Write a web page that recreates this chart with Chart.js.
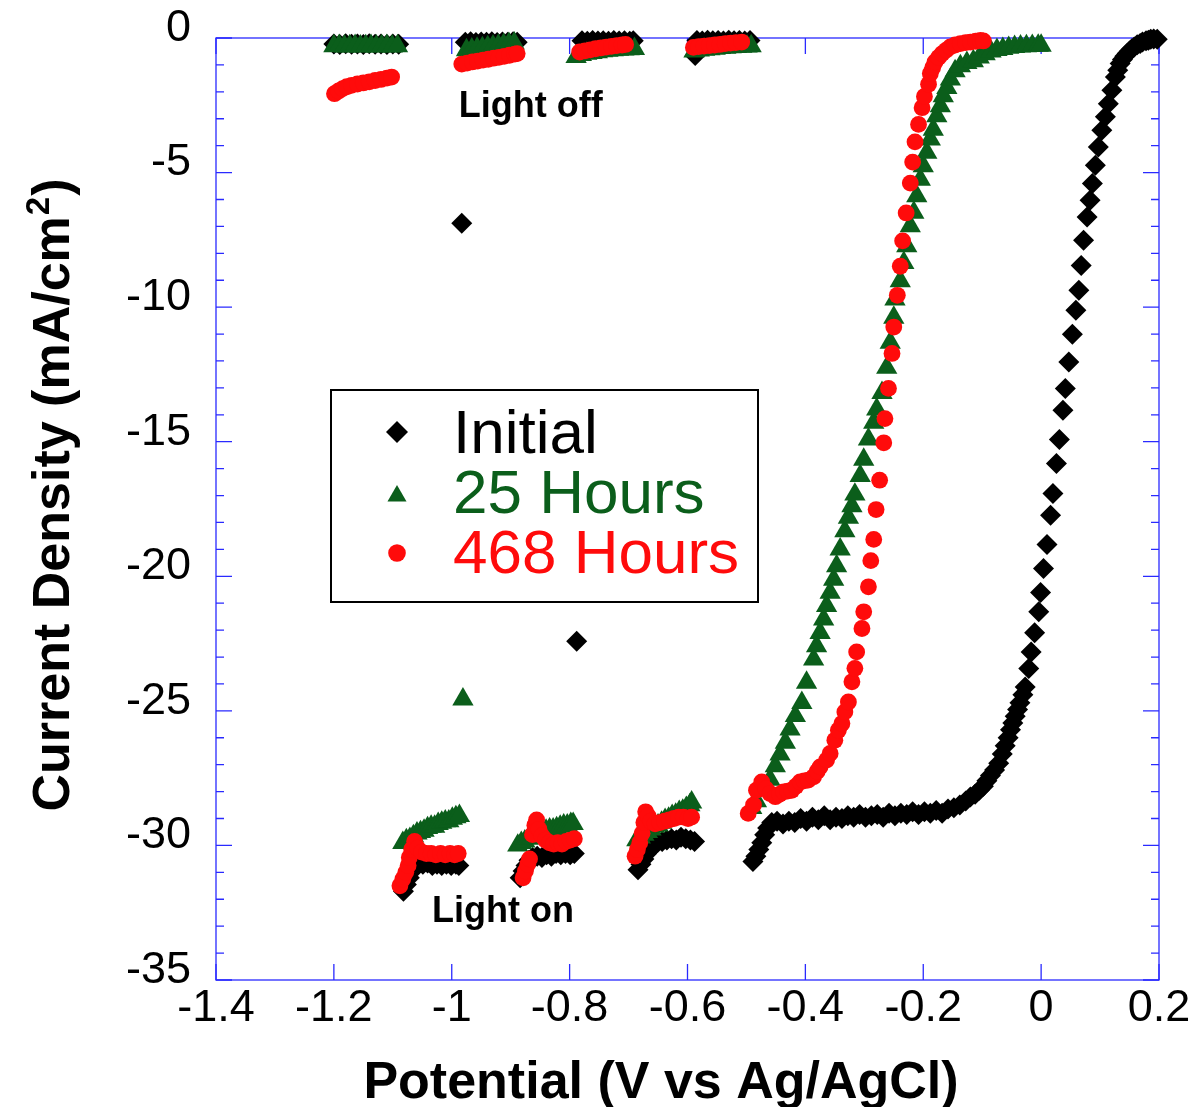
<!DOCTYPE html>
<html><head><meta charset="utf-8">
<script src="https://cdn.jsdelivr.net/npm/chart.js@4/dist/chart.umd.min.js"></script>
<style>html,body{margin:0;padding:0;background:#fff}#wrap{width:1192px;height:1107px}</style>
</head><body><div id="wrap"><canvas id="c" width="1192" height="1107"></canvas></div>
<script>
// ---- data: [potential (V vs Ag/AgCl), current density (mA/cm^2)] ----
const seriesNames = ['Initial', '25 Hours', '468 Hours'];
const potentialTicks = [-1.4, -1.2, -1, -0.8, -0.6, -0.4, -0.2, 0, 0.2];
const currentTicks = [0, -5, -10, -15, -20, -25, -30, -35];
const xTitle = 'Potential (V vs Ag/AgCl)';
const yTitle = 'Current Density (mA/cm²)';

const initialData = [
  [-1.200,-0.22],[-1.190,-0.24],[-1.180,-0.21],[-1.170,-0.23],[-1.160,-0.22],[-1.150,-0.24],[-1.140,-0.21],[-1.130,-0.23],[-1.120,-0.22],[-1.110,-0.24],[-1.100,-0.22],[-1.090,-0.23],
  [-1.082,-31.7],[-1.077,-31.45],[-1.072,-31.2],[-1.067,-30.95],[-1.062,-30.75],[-1.056,-30.6],[-1.049,-30.7],[-1.041,-30.65],[-1.033,-30.75],[-1.025,-30.7],[-1.017,-30.75],[-1.009,-30.7],[-1.001,-30.75],[-0.993,-30.7],[-0.988,-30.75],
  [-0.983,-6.88],
  [-0.977,-0.16],[-0.968,-0.14],[-0.959,-0.17],[-0.950,-0.15],[-0.941,-0.16],[-0.932,-0.14],[-0.923,-0.17],[-0.914,-0.15],[-0.905,-0.16],[-0.896,-0.14],[-0.889,-0.16],
  [-0.884,-31.2],[-0.879,-30.95],[-0.874,-30.75],[-0.869,-30.55],[-0.863,-30.45],[-0.855,-30.4],[-0.847,-30.45],[-0.839,-30.35],[-0.831,-30.4],[-0.823,-30.3],[-0.815,-30.35],[-0.807,-30.3],[-0.799,-30.35],[-0.792,-30.3],
  [-0.788,-22.41],
  [-0.779,-0.10],[-0.770,-0.12],[-0.761,-0.09],[-0.752,-0.11],[-0.743,-0.10],[-0.734,-0.12],[-0.725,-0.09],[-0.716,-0.11],[-0.707,-0.10],[-0.698,-0.12],[-0.692,-0.10],
  [-0.684,-30.9],[-0.679,-30.7],[-0.674,-30.5],[-0.669,-30.3],[-0.664,-30.15],[-0.658,-30.0],[-0.651,-29.9],[-0.643,-29.85],[-0.635,-29.8],[-0.627,-29.75],[-0.619,-29.8],[-0.611,-29.7],[-0.603,-29.75],[-0.595,-29.8],[-0.588,-29.85],
  [-0.587,-0.65],
  [-0.584,-0.09],[-0.575,-0.11],[-0.566,-0.08],[-0.557,-0.10],[-0.548,-0.09],[-0.539,-0.11],[-0.530,-0.08],[-0.521,-0.10],[-0.512,-0.09],[-0.503,-0.11],[-0.494,-0.09],
  [-0.489,-30.6],[-0.484,-30.4],[-0.479,-30.15],[-0.474,-29.9],[-0.469,-29.6],[-0.464,-29.35],[-0.457,-29.15],[-0.448,-29.1],[-0.438,-29.2],[-0.428,-29.1],[-0.418,-29.15],[-0.408,-29.0],[-0.398,-29.1],[-0.388,-28.95],[-0.378,-29.05],[-0.368,-28.9],[-0.358,-29.05],[-0.348,-28.95],[-0.338,-29.0],[-0.328,-28.9],[-0.318,-28.95],[-0.308,-28.85],[-0.298,-28.95],[-0.288,-28.9],[-0.278,-28.85],[-0.268,-28.95],[-0.258,-28.8],[-0.248,-28.9],[-0.238,-28.8],[-0.228,-28.85],[-0.218,-28.75],[-0.208,-28.85],[-0.198,-28.75],[-0.188,-28.8],[-0.178,-28.7],[-0.168,-28.8],[-0.158,-28.65],[-0.148,-28.6],[-0.138,-28.5],[-0.128,-28.35],[-0.120,-28.2],[-0.112,-28.1],[-0.105,-27.95],[-0.098,-27.8],[-0.092,-27.6],[-0.086,-27.4],[-0.079,-27.2],[-0.072,-26.95],[-0.066,-26.6],[-0.061,-26.3],[-0.056,-26.0],[-0.052,-25.7],[-0.048,-25.45],[-0.044,-25.2],[-0.040,-24.95],[-0.036,-24.7],[-0.031,-24.4],[-0.027,-24.11],[-0.021,-23.43],[-0.017,-22.81],[-0.011,-22.1],[-0.004,-21.32],[-0.001,-20.6],[0.004,-19.71],[0.010,-18.82],[0.016,-17.73],[0.020,-16.92],[0.026,-15.81],[0.031,-14.92],[0.037,-13.83],[0.041,-13.02],[0.047,-12.04],[0.053,-11.01],[0.059,-10.12],[0.064,-9.37],[0.068,-8.45],[0.072,-7.51],[0.078,-6.65],[0.083,-6.03],[0.087,-5.41],[0.092,-4.73],[0.097,-4.05],[0.103,-3.43],[0.109,-2.93],[0.114,-2.44],[0.120,-1.94],[0.126,-1.45],[0.130,-1.2],[0.134,-0.95],[0.138,-0.8],[0.142,-0.68],[0.146,-0.58],[0.150,-0.48],[0.154,-0.4],[0.158,-0.33],[0.163,-0.25],[0.168,-0.2],[0.172,-0.15],[0.178,-0.1],[0.182,-0.08],[0.186,-0.05],[0.191,-0.04],[0.197,-0.05]
];

const hours25Data = [
  [-1.200,-0.30],[-1.191,-0.29],[-1.182,-0.31],[-1.173,-0.30],[-1.164,-0.29],[-1.155,-0.31],[-1.146,-0.30],[-1.137,-0.29],[-1.128,-0.31],[-1.119,-0.30],[-1.110,-0.29],[-1.101,-0.31],[-1.092,-0.30],
  [-1.083,-29.9],[-1.077,-29.8],[-1.071,-29.75],[-1.065,-29.65],[-1.059,-29.55],[-1.053,-29.5],[-1.047,-29.45],[-1.041,-29.35],[-1.035,-29.3],[-1.029,-29.3],[-1.023,-29.2],[-1.017,-29.15],[-1.011,-29.1],[-1.005,-29.1],[-0.999,-29.0],[-0.993,-28.95],[-0.987,-28.9],
  [-0.981,-24.57],
  [-0.975,-0.45],[-0.966,-0.42],[-0.957,-0.39],[-0.948,-0.37],[-0.939,-0.34],[-0.930,-0.31],[-0.921,-0.28],[-0.912,-0.25],[-0.903,-0.22],[-0.894,-0.20],
  [-0.888,-30.0],[-0.882,-29.9],[-0.876,-29.85],[-0.870,-29.75],[-0.864,-29.7],[-0.858,-29.6],[-0.852,-29.55],[-0.846,-29.5],[-0.840,-29.45],[-0.834,-29.4],[-0.828,-29.4],[-0.822,-29.35],[-0.816,-29.3],[-0.810,-29.25],[-0.804,-29.25],[-0.798,-29.2],[-0.794,-29.2],
  [-0.789,-0.70],[-0.780,-0.63],[-0.771,-0.58],[-0.762,-0.55],[-0.753,-0.52],[-0.744,-0.49],[-0.735,-0.47],[-0.726,-0.45],[-0.717,-0.43],[-0.708,-0.42],[-0.699,-0.41],[-0.690,-0.40],
  [-0.686,-29.8],[-0.680,-29.7],[-0.674,-29.6],[-0.668,-29.5],[-0.662,-29.4],[-0.656,-29.3],[-0.650,-29.25],[-0.644,-29.15],[-0.638,-29.05],[-0.632,-29.0],[-0.626,-28.9],[-0.620,-28.85],[-0.614,-28.75],[-0.608,-28.7],[-0.602,-28.6],[-0.596,-28.5],[-0.593,-28.4],
  [-0.589,-0.50],[-0.580,-0.46],[-0.571,-0.43],[-0.562,-0.41],[-0.553,-0.39],[-0.544,-0.37],[-0.535,-0.36],[-0.526,-0.34],[-0.517,-0.33],[-0.508,-0.32],[-0.499,-0.31],[-0.492,-0.30],
  [-0.491,-28.6],[-0.483,-28.35],[-0.471,-27.92],[-0.460,-27.55],[-0.451,-27.05],[-0.443,-26.62],[-0.434,-26.18],[-0.426,-25.69],[-0.417,-25.19],[-0.406,-24.7],[-0.398,-23.95],[-0.386,-23.09],[-0.381,-22.59],[-0.375,-22.1],[-0.369,-21.6],[-0.364,-21.1],[-0.358,-20.61],[-0.352,-20.12],[-0.347,-19.62],[-0.341,-19.0],[-0.333,-18.32],[-0.327,-17.82],[-0.321,-17.39],[-0.316,-16.96],[-0.307,-16.27],[-0.301,-15.66],[-0.293,-14.91],[-0.284,-14.29],[-0.279,-13.80],[-0.270,-13.18],[-0.262,-12.25],[-0.256,-11.32],[-0.250,-10.39],[-0.248,-9.71],[-0.239,-9.03],[-0.233,-8.35],[-0.228,-7.73],[-0.222,-6.99],[-0.216,-6.49],[-0.211,-5.87],[-0.205,-5.26],[-0.200,-4.76],[-0.194,-4.26],[-0.188,-3.77],[-0.183,-3.40],[-0.177,-2.90],[-0.171,-2.53],[-0.166,-2.16],[-0.160,-1.85],[-0.154,-1.54],[-0.146,-1.23],[-0.137,-1.04],[-0.126,-0.92],[-0.115,-0.86],
  [-0.105,-0.72],[-0.095,-0.60],[-0.085,-0.50],[-0.075,-0.44],[-0.065,-0.40],[-0.055,-0.36],[-0.045,-0.33],[-0.035,-0.31],[-0.025,-0.30],[-0.015,-0.29],[-0.005,-0.28],[0.000,-0.28]
];

const hours468Data = [
  [-1.199,-2.07],[-1.192,-1.97],[-1.185,-1.88],[-1.178,-1.81],[-1.170,-1.76],[-1.160,-1.71],[-1.150,-1.67],[-1.140,-1.63],[-1.130,-1.58],[-1.120,-1.54],[-1.110,-1.49],[-1.102,-1.45],
  [-1.088,-31.5],[-1.083,-31.25],[-1.078,-31.0],[-1.074,-30.75],[-1.072,-30.45],[-1.068,-30.15],[-1.063,-29.85],[-1.058,-30.1],[-1.051,-30.25],[-1.043,-30.3],[-1.035,-30.3],[-1.027,-30.35],[-1.019,-30.3],[-1.011,-30.35],[-1.003,-30.3],[-0.995,-30.35],[-0.989,-30.3],
  [-0.983,-0.97],[-0.974,-0.93],[-0.965,-0.89],[-0.956,-0.86],[-0.947,-0.82],[-0.938,-0.79],[-0.929,-0.75],[-0.920,-0.72],[-0.911,-0.68],[-0.902,-0.64],[-0.893,-0.60],[-0.889,-0.58],
  [-0.879,-31.2],[-0.875,-30.95],[-0.871,-30.7],[-0.868,-30.5],[-0.863,-29.6],[-0.859,-29.25],[-0.856,-29.05],[-0.852,-29.4],[-0.847,-29.65],[-0.841,-29.8],[-0.834,-29.9],[-0.827,-29.95],[-0.820,-29.9],[-0.813,-29.95],[-0.806,-29.85],[-0.799,-29.8],[-0.792,-29.75],
  [-0.783,-0.52],[-0.774,-0.48],[-0.765,-0.44],[-0.756,-0.40],[-0.747,-0.37],[-0.738,-0.34],[-0.729,-0.31],[-0.720,-0.28],[-0.711,-0.26],[-0.705,-0.24],
  [-0.689,-30.4],[-0.685,-30.15],[-0.681,-29.9],[-0.677,-29.55],[-0.674,-29.15],[-0.671,-28.75],[-0.667,-28.9],[-0.662,-29.1],[-0.655,-29.2],[-0.647,-29.15],[-0.639,-29.1],[-0.631,-29.05],[-0.623,-29.0],[-0.615,-28.95],[-0.607,-28.95],[-0.599,-29.0],[-0.593,-28.95],
  [-0.590,-0.35],[-0.581,-0.32],[-0.572,-0.30],[-0.563,-0.28],[-0.554,-0.26],[-0.545,-0.24],[-0.536,-0.21],[-0.527,-0.19],[-0.518,-0.17],[-0.508,-0.15],
  [-0.497,-28.81],[-0.488,-28.5],[-0.483,-27.95],[-0.474,-27.64],[-0.467,-27.9],[-0.460,-28.07],[-0.451,-28.19],[-0.444,-28.1],[-0.437,-28.01],[-0.430,-27.98],[-0.423,-27.95],[-0.416,-27.8],[-0.409,-27.64],[-0.402,-27.6],[-0.395,-27.57],[-0.386,-27.45],[-0.380,-27.25],[-0.375,-27.08],[-0.364,-26.83],[-0.358,-26.58],[-0.350,-26.09],[-0.344,-25.72],[-0.338,-25.47],[-0.333,-25.04],[-0.327,-24.67],[-0.321,-23.92],[-0.316,-23.42],[-0.313,-22.81],[-0.304,-21.94],[-0.301,-21.32],[-0.293,-20.39],[-0.289,-19.42],[-0.284,-18.63],[-0.280,-17.52],[-0.274,-16.43],[-0.267,-15.04],[-0.265,-14.14],[-0.259,-13.02],[-0.253,-11.72],[-0.250,-10.74],[-0.244,-9.56],[-0.239,-8.48],[-0.235,-7.54],[-0.229,-6.5],[-0.222,-5.39],[-0.218,-4.61],[-0.214,-3.86],[-0.208,-3.21],[-0.202,-2.59],[-0.198,-2.17],[-0.191,-1.72],[-0.188,-1.32],[-0.184,-1.10],[-0.180,-0.89],[-0.174,-0.72],[-0.168,-0.58],[-0.161,-0.45],[-0.154,-0.33],[-0.146,-0.26],[-0.137,-0.21],[-0.128,-0.17],[-0.120,-0.15],[-0.111,-0.12],[-0.103,-0.09],[-0.098,-0.11]
];

const seriesColors = ['#000000', '#0b5e1b', '#ff0b0b'];

// ---- rendering ----
const FONT = '"Liberation Sans", Arial, Helvetica, sans-serif';
const toXY = arr => arr.map(p => ({x: p[0], y: p[1]}));

const framePlugin = {
  id: 'frame',
  beforeDatasetsDraw(chart) {
    const {ctx, chartArea: a, scales: {x, y}} = chart;
    ctx.save();
    ctx.strokeStyle = '#2a2aff';
    ctx.lineWidth = 1.3;
    ctx.strokeRect(a.left, a.top, a.right - a.left, a.bottom - a.top);
    ctx.beginPath();
    potentialTicks.forEach(v => {
      const p = x.getPixelForValue(v);
      ctx.moveTo(p, a.bottom); ctx.lineTo(p, a.bottom - 16);
      ctx.moveTo(p, a.top); ctx.lineTo(p, a.top + 16);
    });
    for (let v = 0; v >= -35; v -= 1) {
      const p = y.getPixelForValue(v);
      const len = (v % 5 === 0) ? 16 : 8;
      ctx.moveTo(a.left, p); ctx.lineTo(a.left + len, p);
      ctx.moveTo(a.right, p); ctx.lineTo(a.right - len, p);
    }
    ctx.stroke();
    ctx.restore();
  }
};

function marker(ctx, style, cx, cy, r) {
  ctx.beginPath();
  if (style === 'rectRot') {
    ctx.moveTo(cx - r, cy); ctx.lineTo(cx, cy - r); ctx.lineTo(cx + r, cy); ctx.lineTo(cx, cy + r);
  } else if (style === 'triangle') {
    ctx.moveTo(cx, cy - r);
    ctx.lineTo(cx + r * Math.sin(2 * Math.PI / 3), cy + r / 2);
    ctx.lineTo(cx - r * Math.sin(2 * Math.PI / 3), cy + r / 2);
  } else {
    ctx.arc(cx, cy, r, 0, Math.PI * 2);
  }
  ctx.closePath();
  ctx.fill();
}

const legendPlugin = {
  id: 'boxLegend',
  afterDatasetsDraw(chart) {
    const {ctx, chartArea: a, scales: {x, y}} = chart;
    ctx.save();
    // annotations
    ctx.fillStyle = '#000';
    ctx.font = 'bold 36px ' + FONT;
    ctx.textAlign = 'center';
    ctx.textBaseline = 'alphabetic';
    ctx.fillText('Light off', x.getPixelForValue(-0.866), y.getPixelForValue(-2.95));
    ctx.fillText('Light on', x.getPixelForValue(-0.913), y.getPixelForValue(-32.85));
    // legend box
    const bx = a.left + 115, by = a.top + 352, bw = 427, bh = 212;
    ctx.fillStyle = '#fff';
    ctx.fillRect(bx, by, bw, bh);
    ctx.strokeStyle = '#000';
    ctx.lineWidth = 2;
    ctx.strokeRect(bx, by, bw, bh);
    const styles = ['rectRot', 'triangle', 'circle'];
    const radii = [11, 11, 8.8];
    const markerY = [42, 106, 163];
    const textY = [63, 123, 183];
    ctx.font = '62px ' + FONT;
    ctx.textAlign = 'left';
    for (let i = 0; i < 3; i++) {
      ctx.fillStyle = seriesColors[i];
      marker(ctx, styles[i], bx + 66, by + markerY[i], radii[i]);
      ctx.fillText(seriesNames[i], bx + 122, by + textY[i]);
    }
    ctx.restore();
  },
  afterDraw(chart) {
    const ctx = chart.ctx;
    const big = 'bold 52px ' + FONT, small = 'bold 33px ' + FONT;
    ctx.save();
    ctx.fillStyle = '#000';
    ctx.textBaseline = 'alphabetic';
    // x axis title
    ctx.font = big; ctx.textAlign = 'center';
    ctx.fillText(xTitle, 661, 1098);
    // y axis title (with raised "2")
    ctx.translate(69, 495);
    ctx.rotate(-Math.PI / 2);
    const main = yTitle.slice(0, yTitle.indexOf('²'));
    const tail = yTitle.slice(yTitle.indexOf('²') + 1);
    ctx.font = big; const w1 = ctx.measureText(main).width; const w3 = ctx.measureText(tail).width;
    ctx.font = small; const w2 = ctx.measureText('2').width;
    const total = w1 + w2 + 2 + w3;
    let cx = -total / 2;
    ctx.textAlign = 'left';
    ctx.font = big; ctx.fillText(main, cx, 0); cx += w1 + 1;
    ctx.font = small; ctx.fillText('2', cx, -20); cx += w2 + 1;
    ctx.font = big; ctx.fillText(tail, cx, 0);
    ctx.restore();
  }
};

const tickFont = {family: FONT, size: 45};
const fmt = v => String(Number(Number(v).toFixed(2)));

new Chart(document.getElementById('c'), {
  type: 'scatter',
  data: {
    datasets: [
      {label: seriesNames[0], data: toXY(initialData), pointStyle: 'rectRot', pointRadius: 10.5, pointHoverRadius: 10.5,
       backgroundColor: seriesColors[0], borderColor: seriesColors[0], borderWidth: 0, order: 3, clip: false},
      {label: seriesNames[1], data: toXY(hours25Data), pointStyle: 'triangle', pointRadius: 12.3, pointHoverRadius: 12.3,
       backgroundColor: seriesColors[1], borderColor: seriesColors[1], borderWidth: 0, order: 2, clip: false},
      {label: seriesNames[2], data: toXY(hours468Data), pointStyle: 'circle', pointRadius: 8.4, pointHoverRadius: 8.4,
       backgroundColor: seriesColors[2], borderColor: seriesColors[2], borderWidth: 0, order: 1, clip: false}
    ]
  },
  options: {
    responsive: false,
    animation: false,
    devicePixelRatio: 1,
    events: [],
    layout: {padding: {top: 38, right: 33, left: 0, bottom: 0}},
    plugins: {legend: {display: false}, tooltip: {enabled: false}},
    scales: {
      x: {
        type: 'linear', position: 'bottom', min: -1.4, max: 0.2,
        afterBuildTicks: s => { s.ticks = potentialTicks.map(v => ({value: v})); },
        afterFit: s => { s.height = 127; s.paddingLeft = 0; s.paddingRight = 0; },
        ticks: {font: tickFont, color: '#000', padding: 2, maxRotation: 0, minRotation: 0, autoSkip: false, callback: fmt},
        grid: {display: false, drawTicks: false},
        border: {display: false},
        title: {display: false, text: xTitle}
      },
      y: {
        type: 'linear', position: 'left', min: -35, max: 0,
        afterBuildTicks: s => { s.ticks = currentTicks.map(v => ({value: v})); },
        afterFit: s => { s.width = 216; s.paddingTop = 0; s.paddingBottom = 0; },
        ticks: {font: tickFont, color: '#000', padding: 25, labelOffset: -9.5, autoSkip: false, callback: fmt},
        grid: {display: false, drawTicks: false},
        border: {display: false},
        title: {display: false, text: yTitle}
      }
    }
  },
  plugins: [framePlugin, legendPlugin]
});
</script></body></html>
